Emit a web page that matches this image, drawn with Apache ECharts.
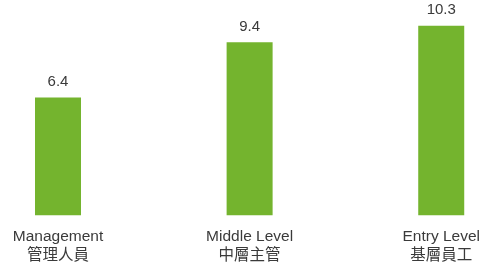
<!DOCTYPE html>
<html>
<head>
<meta charset="utf-8">
<script src="https://cdn.jsdelivr.net/npm/echarts@6/dist/echarts.min.js"></script>
<style>
  html, body { margin: 0; padding: 0; background: #fff; }
  #chart { width: 483px; height: 262px; }
</style>
</head>
<body>
<div id="chart"></div>
<script>
  // data
  const categoriesEn = ["Management", "Middle Level", "Entry Level"];
  const categoriesZh = ["管理人員", "中層主管", "基層員工"];
  const values = [6.4, 9.4, 10.3];

  const categories = categoriesEn.map((en, i) => en + "\n" + categoriesZh[i]);

  const chart = echarts.init(document.getElementById("chart"));
  const font = "'Liberation Sans', 'Noto Sans CJK TC', sans-serif";

  chart.setOption({
    animation: false,
    grid: { left: 58, right: 41, top: 0, bottom: 46 },
    xAxis: {
      type: "category",
      data: categories,
      boundaryGap: false,
      axisLine: { show: false },
      axisTick: { show: false },
      axisLabel: {
        interval: 0,
        margin: 12,
        formatter: function (val) {
          const parts = val.split("\n");
          return "{en|" + parts[0] + "}\n{zh|" + parts[1] + "}";
        },
        rich: {
          en: { color: "#3a3a3a", fontSize: 15.5, lineHeight: 18, fontFamily: font },
          zh: { color: "#3a3a3a", fontSize: 15.5, lineHeight: 18, fontFamily: "'Noto Sans CJK TC', sans-serif" }
        }
      }
    },
    yAxis: {
      type: "value",
      min: 0,
      max: 11.7,
      show: false
    },
    series: [{
      type: "bar",
      data: values,
      barWidth: 46,
      itemStyle: { color: "#74b42e" },
      label: {
        show: true,
        position: "top",
        distance: 8,
        color: "#3a3a3a",
        fontSize: 15,
        fontFamily: font
      }
    }]
  });
</script>
</body>
</html>
